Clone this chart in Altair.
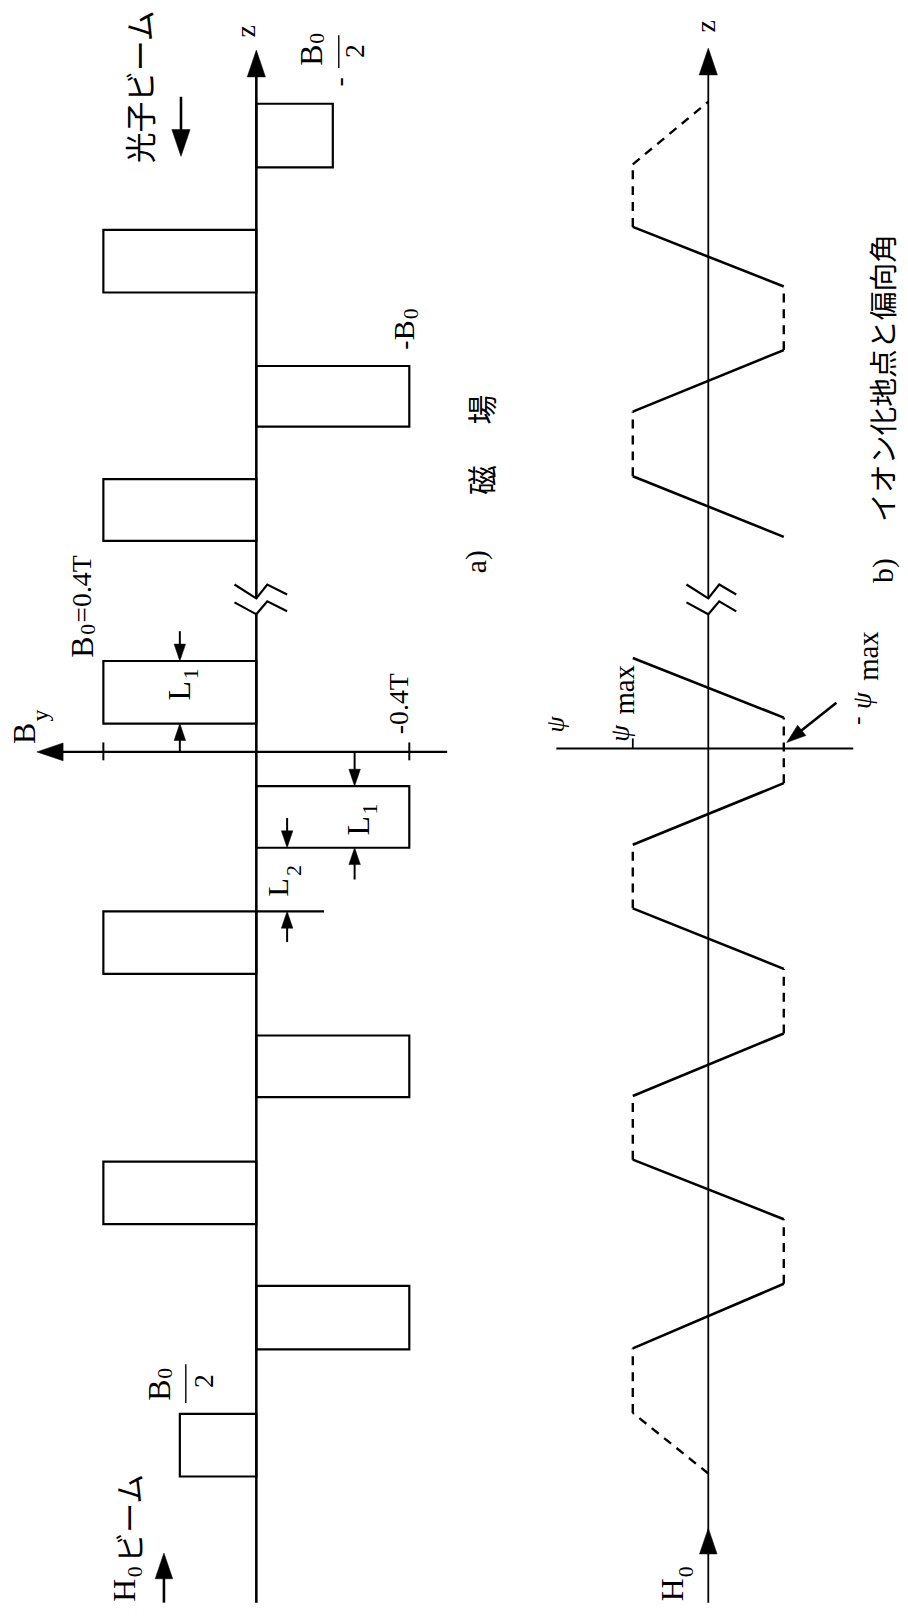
import altair as alt
import pandas as pd

# ------------------------------------------------------------------
# DATA
# z : position along the beam (arbitrary length units, 0 = left end)
# ------------------------------------------------------------------

# a) magnetic field: undulator blocks
MAG_Z_LOW = [144.5, 131.9, 118.4, 106.9, 88.5, 76.0, 63.3, 50.9, 38.1, 25.5, 12.7]
MAG_Z_HIGH = [150.9, 138.2, 124.5, 113.1, 94.8, 82.2, 69.6, 57.1, 44.4, 31.9, 19.0]
MAG_B = [-0.2, 0.4, -0.4, 0.4, 0.4, -0.4, 0.4, -0.4, 0.4, -0.4, 0.2]   # tesla

# b) deflection angle psi (units of psi_max) at the path vertices
PSI_Z = [13.0, 19.1, 25.6, 32.1, 38.6, 44.6, 51.0, 57.3, 63.8, 69.9, 76.3,
         82.5, 89.1, 95.1, 107.3, 113.4, 119.9, 126.1, 132.5, 138.5, 144.8, 151.1]
PSI_VAL = [0, 1, 1, -1, -1, 1, 1, -1, -1, 1, 1, -1, -1, 1, -1, 1, 1, -1, -1, 1, 1, 0]
# kind of segment that ends at each vertex ("" = path starts here)
PSI_SEG = ["", "dash", "dash", "solid", "dash", "solid", "dash", "solid", "dash",
           "solid", "dash", "solid", "dash", "solid", "", "solid", "dash", "solid",
           "dash", "solid", "dash", "dash"]

# axis / break geometry in data units
Z_AXIS_TOP = 155.0
BY_AXIS_Z = 85.65
PSI_AXIS_Z = 86.0
BREAK_Z_UPPER = [102.5, 101.1, 102.5, 101.5]
BREAK_Z_LOWER = [100.7, 99.5, 100.8, 99.8]
BREAK_DB = [0.0571, 0.0, -0.0286, -0.0805]     # B offsets of the break mark
BREAK_DP = [0.289, 0.0, -0.145, -0.37]         # psi offsets of the break mark

# ------------------------------------------------------------------
W, H = 898, 1600
B_DOMAIN = [250 / 385, (250 - W) / 385]
P_DOMAIN = [705 / 76, (705 - W) / 76]
Z_DOMAIN = [0, 160]
SERIF = "Liberation Serif"
CJK = "Noto Sans CJK JP"
HEAD = "M0,0L-0.34,1L0.34,1Z"


def xa(f):
    return alt.X(f, type="quantitative",
                 scale=alt.Scale(domain=B_DOMAIN, nice=False, zero=False), axis=None)


def xb(f):
    return alt.X(f, type="quantitative",
                 scale=alt.Scale(domain=P_DOMAIN, nice=False, zero=False), axis=None)


def yz(f):
    return alt.Y(f, type="quantitative",
                 scale=alt.Scale(domain=Z_DOMAIN, nice=False, zero=False), axis=None)


# ---------------- panel a ----------------
mag = pd.DataFrame({"x": [0.0] * len(MAG_B), "x2": MAG_B, "z": MAG_Z_LOW, "z2": MAG_Z_HIGH})
mag_layer = alt.Chart(mag).mark_rect(fill="white", stroke="black", strokeWidth=2.2).encode(
    x=xa("x"), x2=alt.X2("x2"), y=yz("z"), y2=alt.Y2("z2"))

seg_a = pd.DataFrame([
    # x, x2, z, z2, width
    (0, 0, 0, BREAK_Z_LOWER[1], 2.6),
    (0, 0, BREAK_Z_UPPER[1], Z_AXIS_TOP, 2.6),
    (0.55, -0.499, BY_AXIS_Z, BY_AXIS_Z, 2.2),
    (0.4, 0.4, 84.8, 86.6, 2.0),
    (-0.4, -0.4, 84.8, 86.6, 2.0),
    (0, -0.177, 69.6, 69.6, 2.2),
    (-0.2156, -0.2156, 154.5, 157.8, 1.4),
    (0.1844, 0.1844, 20.1, 24.0, 1.4),
    (0.197, 0.197, 151.6, 147.0, 2.6),
    (0.2416, 0.2416, 0.0, 4.0, 2.6),
    (0.2, 0.2, 97.8, 95.5, 2.0),
    (0.2, 0.2, BY_AXIS_Z, 88.0, 2.0),
    (-0.257, -0.257, BY_AXIS_Z, 83.0, 2.0),
    (-0.257, -0.257, 72.8, 75.5, 2.0),
    (-0.0805, -0.0805, 79.0, 76.5, 2.0),
    (-0.0805, -0.0805, 66.5, 69.0, 2.0),
], columns=["x", "x2", "z", "z2", "w"])
seg_a_layer = alt.Chart(seg_a).mark_rule(color="black").encode(
    x=xa("x"), x2=alt.X2("x2"), y=yz("z"), y2=alt.Y2("z2"),
    strokeWidth=alt.StrokeWidth("w:Q", scale=None))

brk_rows = []
for k, zs in enumerate([BREAK_Z_UPPER, BREAK_Z_LOWER]):
    for i in range(4):
        brk_rows.append({"g": k, "o": i, "b": BREAK_DB[i], "p": BREAK_DP[i], "z": zs[i]})
brk = pd.DataFrame(brk_rows)
brk_a_layer = alt.Chart(brk).mark_line(color="black", strokeWidth=2.2).encode(
    x=xa("b"), y=yz("z"), detail="g:N", order="o:Q")

heads_a = pd.DataFrame([
    # x, z (tip), angle, size
    (0.0, 156.3, 0, 2916),
    (0.574, BY_AXIS_Z, 270, 2800),
    (0.197, 145.6, 180, 2916),
    (0.2416, 5.0, 0, 2700),
    (0.2, 94.8, 180, 1156),
    (0.2, 88.5, 0, 1156),
    (-0.257, 82.2, 180, 1156),
    (-0.257, 76.0, 0, 1156),
    (-0.0805, 76.0, 180, 1156),
    (-0.0805, 69.6, 0, 1156),
], columns=["x", "z", "ang", "s"])
heads_a_layer = alt.Chart(heads_a).mark_point(
    shape=HEAD, filled=True, fill="black", stroke="black", strokeWidth=0.5, opacity=1).encode(
    x=xa("x"), y=yz("z"), angle=alt.Angle("ang:Q", scale=None), size=alt.Size("s:Q", scale=None))

lab_a = pd.DataFrame({
    "t": ["z",
          "B", "0", "2", "-",
          "B", "0", "-",
          "B", "0", "=0.4T",
          "L", "1",
          "B", "y",
          "-0.4T",
          "L", "1",
          "L", "2",
          "a)",
          "H", "0",
          "B", "0", "2"],
    "x": [0.023,
          -0.146, -0.158, -0.260, -0.218,
          -0.390, -0.405, -0.390,
          0.452, 0.440, 0.452,
          0.200, 0.172,
          0.605, 0.564,
          -0.376,
          -0.268, -0.297,
          -0.060, -0.099,
          -0.577,
          0.343, 0.318,
          0.252, 0.239, 0.135],
    "z": [158.2,
          155.8, 157.5, 156.2, 153.1,
          128.1, 129.75, 126.6,
          96.2, 98.0, 102.05,
          91.8, 93.5,
          87.5, 89.3,
          90.5,
          78.2, 79.9,
          72.0, 73.7,
          104.8,
          1.25, 3.1,
          21.4, 23.1, 22.3],
    "fs": [28,
           32, 22, 28, 28,
           30, 22, 28,
           32, 22, 28,
           32, 22,
           32, 24,
           28,
           32, 22,
           30, 22,
           30,
           32, 22,
           32, 22, 28],
})
lab_a_layer = alt.Chart(lab_a).mark_text(
    angle=270, align="center", baseline="middle", font=SERIF, color="black").encode(
    x=xa("x"), y=yz("z"), text="t:N", size=alt.Size("fs:Q", scale=None))

cjk_a = pd.DataFrame({
    "t": ["光子ビーム", "磁", "場", "ビーム"],
    "x": [0.314, -0.577, -0.577, 0.343],
    "z": [152.6, 113.0, 120.1, 8.5],
    "fs": [31, 30, 30, 30],
})
cjk_a_layer = alt.Chart(cjk_a).mark_text(
    angle=270, align="center", baseline="middle", font=CJK, color="black", dy=7).encode(
    x=xa("x"), y=yz("z"), text="t:N", size=alt.Size("fs:Q", scale=None))

# ---------------- panel b ----------------
rows = []
sid = 0
for i in range(1, len(PSI_Z)):
    if PSI_SEG[i] == "":
        continue
    for j, v in enumerate((i - 1, i)):
        rows.append({"seg": sid, "o": j, "p": PSI_VAL[v], "z": PSI_Z[v], "kind": PSI_SEG[i]})
    sid += 1
path = pd.DataFrame(rows)
solid_layer = alt.Chart(path).transform_filter(alt.datum.kind == "solid").mark_line(
    color="black", strokeWidth=2.6).encode(x=xb("p"), y=yz("z"), detail="seg:N", order="o:Q")
dash_layer = alt.Chart(path).transform_filter(alt.datum.kind == "dash").mark_line(
    color="black", strokeWidth=2.4, strokeDash=[9, 7]).encode(
    x=xb("p"), y=yz("z"), detail="seg:N", order="o:Q")

seg_b = pd.DataFrame([
    (0, 0, 0, BREAK_Z_LOWER[1], 1.8),
    (0, 0, BREAK_Z_UPPER[1], Z_AXIS_TOP, 1.8),
    (2.013, -1.92, PSI_AXIS_Z, PSI_AXIS_Z, 2.0),
    (1.0, 1.0, PSI_AXIS_Z, 87.0, 1.8),
    (-1.697, -1.10, 90.6, 87.0, 2.6),
], columns=["x", "x2", "z", "z2", "w"])
seg_b_layer = alt.Chart(seg_b).mark_rule(color="black").encode(
    x=xb("x"), x2=alt.X2("x2"), y=yz("z"), y2=alt.Y2("z2"),
    strokeWidth=alt.StrokeWidth("w:Q", scale=None))

brk_b_layer = alt.Chart(brk).mark_line(color="black", strokeWidth=2.2).encode(
    x=xb("p"), y=yz("z"), detail="g:N", order="o:Q")

heads_b = pd.DataFrame([
    (0.0, 156.5, 0, 2916),
    (0.0, 7.5, 0, 2700),
    (-1.039, 86.6, 231.3, 1500),
], columns=["x", "z", "ang", "s"])
heads_b_layer = alt.Chart(heads_b).mark_point(
    shape=HEAD, filled=True, fill="black", stroke="black", strokeWidth=0.5, opacity=1).encode(
    x=xb("x"), y=yz("z"), angle=alt.Angle("ang:Q", scale=None), size=alt.Size("s:Q", scale=None))

lab_b = pd.DataFrame({
    "t": ["z", "max", "-", "max", "H", "0", "b)"],
    "x": [0.013, 1.105, -1.974, -2.132, 0.46, 0.30, -2.329],
    "z": [158.7, 91.9, 88.8, 95.3, 1.3, 3.1, 103.9],
    "fs": [28, 29, 26, 29, 32, 22, 30],
})
lab_b_layer = alt.Chart(lab_b).mark_text(
    angle=270, align="center", baseline="middle", font=SERIF, color="black").encode(
    x=xb("x"), y=yz("z"), text="t:N", size=alt.Size("fs:Q", scale=None))

psi_lab = pd.DataFrame({
    "t": ["ψ", "ψ", "ψ"],
    "x": [2.013, 1.158, -2.053],
    "z": [88.4, 87.5, 90.8],
    "fs": [26, 27, 27],
})
psi_layer = alt.Chart(psi_lab).mark_text(
    angle=270, align="center", baseline="middle", font=SERIF, fontStyle="italic",
    color="black").encode(
    x=xb("x"), y=yz("z"), text="t:N", size=alt.Size("fs:Q", scale=None))

cjk_b = pd.DataFrame({"t": ["イオン化地点と偏向角"], "x": [-2.329], "z": [123.3], "fs": [29]})
cjk_b_layer = alt.Chart(cjk_b).mark_text(
    angle=270, align="center", baseline="middle", font=CJK, color="black", dy=1).encode(
    x=xb("x"), y=yz("z"), text="t:N", size=alt.Size("fs:Q", scale=None))

chart = alt.layer(
    mag_layer, seg_a_layer, brk_a_layer, heads_a_layer, lab_a_layer, cjk_a_layer,
    solid_layer, dash_layer, seg_b_layer, brk_b_layer, heads_b_layer, lab_b_layer,
    psi_layer, cjk_b_layer,
).resolve_scale(x="independent").properties(
    width=W, height=H, padding=0, autosize=alt.AutoSizeParams(type="none"),
    background="white",
).configure_view(stroke=None)

chart.save("out.html", embed_options={"renderer": "svg", "actions": False})
